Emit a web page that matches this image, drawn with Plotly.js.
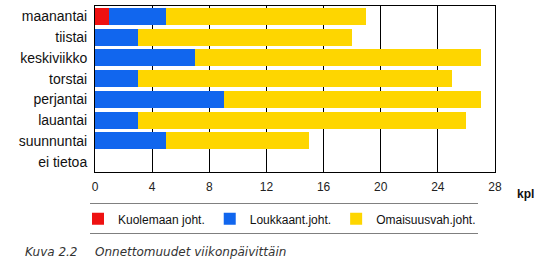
<!DOCTYPE html>
<html><head><meta charset="utf-8">
<script src="https://cdn.plot.ly/plotly-3.0.1.min.js"></script>
<style>body{margin:0;background:#fff}#chart{width:548px;height:272px}</style>
</head><body><div id="chart"></div>
<script>
var days = ["maanantai","tiistai","keskiviikko","torstai","perjantai","lauantai","suunnuntai","ei tietoa"];
var kuolemaan = [1,0,0,0,0,0,0,0];
var loukkaant = [4,3,7,3,9,3,5,0];
var omaisuus = [14,15,20,22,18,23,10,0];
var seriesNames = ["Kuolemaan joht.","Loukkaant.joht.","Omaisuusvah.joht."];
var xTicks = [0,4,8,12,16,20,24,28];

var colors = ["#ee1111","#1166ee","#fed600"];
var data = [kuolemaan, loukkaant, omaisuus].map(function(v,i){
  return {type:"bar", orientation:"h", y:days, x:v, name:seriesNames[i],
    marker:{color:colors[i], line:{width:0}}, hoverinfo:"x+y"};
});
var FONT = '"Liberation Sans", Arial, sans-serif';
var layout = {
  width:548, height:272, barmode:"stack", bargap:0.19,
  margin:{l:95, r:53, t:6, b:100},
  paper_bgcolor:"#fff", plot_bgcolor:"#fff",
  font:{family:FONT, color:"#222"},
  xaxis:{range:[0,28], tickvals:xTicks, ticktext:xTicks.map(String), showgrid:true, gridcolor:"#000", gridwidth:1,
    showline:true, linecolor:"#000", linewidth:1, mirror:true, zeroline:false, ticks:"", ticklen:0,
    ticklabelstandoff:4, tickfont:{family:FONT, size:12, color:"#222"}, fixedrange:true},
  yaxis:{autorange:"reversed", showline:true, linecolor:"#000", linewidth:1, mirror:true, ticks:"",
    tickfont:{family:FONT, size:14, color:"#111"}, showgrid:false, fixedrange:true, ticklabelstandoff:4},
  showlegend:true,
  legend:{orientation:"h", x:-0.0425, xanchor:"left", y:-0.195, yanchor:"top", borderwidth:0,
    font:{family:FONT, size:12, color:"#111"}, itemwidth:30, traceorder:"normal"},
  shapes:[{type:"rect", xref:"paper", yref:"paper", x0:-0.0125, x1:0.9575, y0:-0.1928, y1:-0.3675,
    line:{color:"#000", width:1}, fillcolor:"rgba(0,0,0,0)"}],
  annotations:[
    {xref:"paper", yref:"paper", x:1.05, y:-0.1355, xanchor:"left", yanchor:"middle", text:"<b>kpl</b>", showarrow:false,
      font:{family:FONT, size:12, color:"#111"}},
    {xref:"paper", yref:"paper", x:-0.181, y:-0.482, xanchor:"left", yanchor:"middle", text:"<i>Kuva 2.2</i>", showarrow:false,
      font:{family:"DejaVu Sans, Verdana, sans-serif", size:12, color:"#333"}},
    {xref:"paper", yref:"paper", x:-0.006, y:-0.482, xanchor:"left", yanchor:"middle", text:"<i>Onnettomuudet viikonpäivittäin</i>", showarrow:false,
      font:{family:"DejaVu Sans, Verdana, sans-serif", size:12, color:"#333"}}
  ]
};
Plotly.newPlot("chart", data, layout, {displayModeBar:false, staticPlot:true});
</script></body></html>
